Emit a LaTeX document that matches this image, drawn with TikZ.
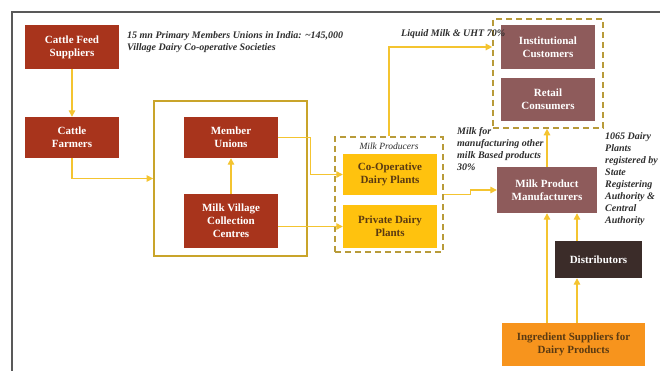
\documentclass[tikz,border=0pt]{standalone}
\usepackage{fontspec}
\setmainfont{Liberation Serif}
\usetikzlibrary{arrows.meta,calc}
\definecolor{cred}{HTML}{A8341C}
\definecolor{cmauve}{HTML}{8E5B5B}
\definecolor{cyel}{HTML}{FFC20E}
\definecolor{carrow}{HTML}{F4C430}
\definecolor{cgold}{HTML}{C9A42A}
\definecolor{cdash}{HTML}{B89B3A}
\definecolor{cdark}{HTML}{3B2C29}
\definecolor{corange}{HTML}{F7941D}
\definecolor{ctxt}{HTML}{5A3A12}
\definecolor{clabel}{HTML}{2E2E2E}
\tikzset{
  box/.style={inner sep=1pt, align=center, font=\fontsize{11}{13}\selectfont\bfseries},
  redbox/.style={box, fill=cred, text=white},
  mauvebox/.style={box, fill=cmauve, text=white},
  yelbox/.style={box, fill=cyel, text=ctxt},
  darkbox/.style={box, fill=cdark, text=white},
  orangebox/.style={box, fill=corange, text=ctxt},
  conn/.style={carrow, line width=1.3pt, -{Triangle[length=6.5pt,width=6.5pt]}},
  dashbox/.style={draw=cdash, line width=1.6pt, dash pattern=on 6pt off 4pt},
  lbl/.style={font=\fontsize{10}{12}\selectfont\itshape\bfseries, text=clabel, inner sep=0pt, align=left}
}
\begin{document}
\begin{tikzpicture}[x=1pt,y=-1pt]
\useasboundingbox (0,0) rectangle (660,371);
\fill[white] (0,0) rectangle (660,371);
% frame
\draw[gray!70!black, line width=1.2pt] (12,371) -- (12,12) -- (661,12);

% left column
\node[redbox, minimum width=94pt, minimum height=44pt] (cfs) at (72,47) {Cattle Feed\\Suppliers};
\node[redbox, minimum width=94pt, minimum height=41pt] (cf) at (72,137.5) {Cattle\\Farmers};

\node[lbl, anchor=north west] (note) at (127,31) {15 mn Primary Members Unions in India: \textasciitilde145,000\\Village Dairy Co-operative Societies};

% big box
\node[draw=cgold, line width=1.8pt, minimum width=153pt, minimum height=155pt, inner sep=0pt] (big) at (230.5,178.5) {};
\node[redbox, minimum width=94pt, minimum height=41pt] (mu) at (231,137.5) {Member\\Unions};
\node[redbox, minimum width=94pt, minimum height=54pt] (mvc) at (231,221) {Milk Village\\Collection\\Centres};

% milk producers
\node[dashbox, minimum width=108pt, minimum height=115pt, inner sep=0pt] (mp) at (389,194.5) {};
\node[lbl, font=\fontsize{9.5}{10}\selectfont\itshape] (mpl) at (389,146.5) {Milk Producers};
\node[yelbox, minimum width=94pt, minimum height=41pt] (coop) at (390,174.5) {Co-Operative\\Dairy Plants};
\node[yelbox, minimum width=94pt, minimum height=43pt] (pdp) at (390,226.5) {Private Dairy\\Plants};

% customers
\node[dashbox, minimum width=110pt, minimum height=109pt, inner sep=0pt] (cust) at (548,73.5) {};
\node[mauvebox, minimum width=94pt, minimum height=44pt] (inst) at (548,47) {Institutional\\Customers};
\node[mauvebox, minimum width=94pt, minimum height=43pt] (ret) at (548,99.5) {Retail\\Consumers};

\node[mauvebox, minimum width=100pt, minimum height=46pt] (mpm) at (547,190) {Milk Product\\Manufacturers};
\node[darkbox, minimum width=87pt, minimum height=37pt] (dist) at (598.5,259.5) {Distributors};
\node[orangebox, minimum width=143pt, minimum height=43pt] (ing) at (573.5,344.5) {Ingredient Suppliers for\\Dairy Products};

% labels
\node[lbl, anchor=west] (liq) at (401,34) {Liquid Milk \& UHT 70\%};
\node[lbl, anchor=north west] (mfor) at (457,127.5) {Milk for\\manufacturing other\\milk Based products\\30\%};
\node[lbl, anchor=north west] (reg) at (605,132.5) {1065 Dairy\\Plants\\registered by\\State\\Registering\\Authority \&\\Central\\Authority};

% connectors
\coordinate (c1) at (577,0);
\coordinate (c2) at (547,0);
\draw[conn] (cfs) -- (cf);
\draw[conn] (cf.south) |- (big.west);
\draw[conn] (mvc) -- (mu);
\draw[conn] (mu.east) -- ++(32,0) |- (coop.west);
\draw[conn] (mvc.east |- pdp.west) -- (pdp.west);
\draw[conn] (mp.north) |- (cust.west |- inst.west);
\draw[conn] (mp.east) -- ++(27,0) |- (mpm.west);
\draw[conn] (mpm.north) -- (mpm.north |- cust.south);
\draw[conn] (ing.north -| c2) -- (mpm.south -| c2);
\draw[conn] (ing.north -| c1) -- (dist.south -| c1);
\draw[conn] (dist.north -| c1) -- (mpm.south -| c1);
\end{tikzpicture}
\end{document}
